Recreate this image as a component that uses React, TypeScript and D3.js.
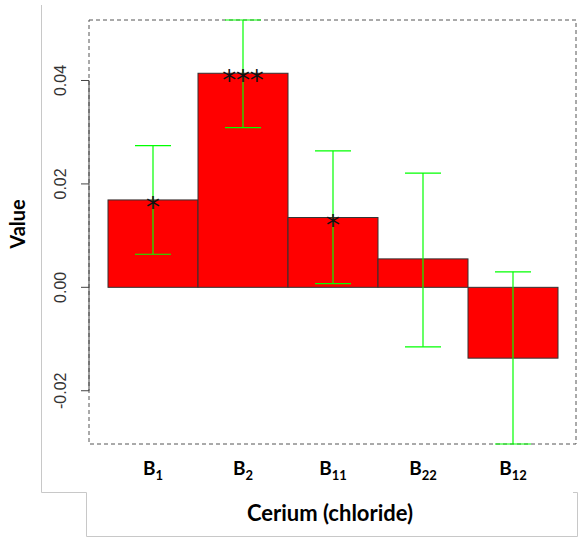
import React from "react";
import * as d3 from "d3";

// Treatment groups (base letter + subscript index)
const groupBase = ["B", "B", "B", "B", "B"];
const groupIndex = ["1", "2", "11", "22", "12"];
// Mean effect per group
const means = [0.0169, 0.0414, 0.0135, 0.0055, -0.0137];
// Confidence interval bounds
const upper = [0.0274, 0.0517, 0.0264, 0.0221, 0.003];
const lower = [0.0064, 0.0309, 0.0007, -0.0115, -0.0303];
// Significance markers
const stars = ["*", "***", "*", "", ""];
// Y axis ticks
const yTicks = [-0.02, 0.0, 0.02, 0.04];

const W = 581;
const H = 540;

export default function App() {
  const boxLeft = 89;
  const boxRight = 576;
  const boxTop = 20;
  const boxBottom = 444;

  const x = d3
    .scaleBand<number>()
    .domain(d3.range(means.length))
    .range([108, 558])
    .padding(0);

  const y = d3
    .scaleLinear()
    .domain([d3.min(lower) as number, d3.max(upper) as number])
    .range([boxBottom, boxTop]);

  const bw = x.bandwidth();
  const capHalf = 18;
  const starStep = 13.7;
  const fmt = (t: number) => d3.format(".2f")(t).replace("\u2212", "-");

  return (
    <svg
      width={W}
      height={H}
      style={{ position: "absolute", left: 0, top: 0, background: "#fff" }}
    >
      {/* outer frame lines */}
      <path
        d="M41.5,5 V492.5 H86.5 V536.5 H577.5 V492.5 H573"
        fill="none"
        stroke="#c8c8c8"
        strokeWidth={1}
      />

      {/* dashed plot box */}
      <rect
        x={boxLeft}
        y={boxTop}
        width={boxRight - boxLeft}
        height={boxBottom - boxTop}
        fill="none"
        stroke="#555"
        strokeWidth={1}
        strokeDasharray="4,3"
      />

      {/* bars */}
      {means.map((v, i) => (
        <rect
          key={"b" + i}
          x={x(i) as number}
          y={y(Math.max(0, v))}
          width={bw}
          height={Math.abs(y(v) - y(0))}
          fill="#ff0000"
          stroke="#333"
          strokeWidth={1}
        />
      ))}

      {/* error bars */}
      {means.map((_, i) => {
        const cx = (x(i) as number) + bw / 2;
        return (
          <g key={"e" + i} stroke="#00ff00" strokeWidth={1.2}>
            <line x1={cx} x2={cx} y1={y(upper[i])} y2={y(lower[i])} />
            <line x1={cx - capHalf} x2={cx + capHalf} y1={y(upper[i])} y2={y(upper[i])} />
            <line x1={cx - capHalf} x2={cx + capHalf} y1={y(lower[i])} y2={y(lower[i])} />
          </g>
        );
      })}

      {/* significance stars */}
      {stars.map((s, i) => {
        const cx = (x(i) as number) + bw / 2;
        const chars = s.split("");
        return chars.map((c, k) => (
          <text
            key={"s" + i + "_" + k}
            x={cx + (k - (chars.length - 1) / 2) * starStep}
            y={y(means[i]) + 17}
            textAnchor="middle"
            fontFamily="DejaVu Sans"
            fontSize={28}
            fill="#111"
          >
            {c}
          </text>
        ));
      })}

      {/* y axis */}
      <g stroke="#444" strokeWidth={1}>
        <line
          x1={boxLeft}
          x2={boxLeft}
          y1={y(yTicks[yTicks.length - 1])}
          y2={y(yTicks[0])}
        />
        {yTicks.map((t) => (
          <line key={"t" + t} x1={81} x2={boxLeft} y1={y(t)} y2={y(t)} />
        ))}
      </g>
      {yTicks.map((t) => (
        <text
          key={"l" + t}
          transform={`translate(66,${y(t)}) rotate(-90)`}
          textAnchor="middle"
          fontFamily="Liberation Sans, Arial, sans-serif"
          fontSize={16}
          fill="#333"
        >
          {fmt(t)}
        </text>
      ))}

      {/* y title */}
      <text
        transform="translate(25,224) rotate(-90)"
        textAnchor="middle"
        fontFamily="Lato"
        fontWeight="bold"
        fontSize={20}
        fill="#000"
      >
        Value
      </text>

      {/* x labels */}
      {groupBase.map((b, i) => {
        const cx = (x(i) as number) + bw / 2;
        return (
          <text
            key={"x" + i}
            x={cx}
            y={475}
            textAnchor="middle"
            fontFamily="Lato"
            fontWeight="bold"
            fontSize={19}
            fill="#000"
          >
            {b}
            <tspan fontSize={13} dy={5}>
              {groupIndex[i]}
            </tspan>
          </text>
        );
      })}

      {/* x title */}
      <text
        x={330}
        y={521}
        textAnchor="middle"
        fontFamily="Lato"
        fontWeight="bold"
        fontSize={22}
        fill="#000"
      >
        Cerium (chloride)
      </text>
    </svg>
  );
}
